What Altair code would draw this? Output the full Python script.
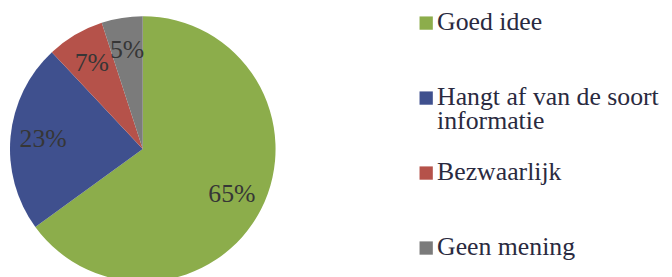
import altair as alt
import pandas as pd

categories = ["Goed idee", "Hangt af van de soort informatie", "Bezwaarlijk", "Geen mening"]
legend_labels = ["Goed idee", "Hangt af van de soort\ninformatie", "Bezwaarlijk", "Geen mening"]
values = [65, 23, 7, 5]
colors = ["#8cad4b", "#3f508e", "#b5524a", "#7b7b7b"]

df = pd.DataFrame({
    "cat": categories,
    "leg": legend_labels,
    "val": values,
    "order": list(range(len(categories))),
})
df["label"] = df["val"].astype(str) + "%"

cx, cy = 136, 141
SERIF = "Liberation Serif"

color = alt.Color("cat:N", scale=alt.Scale(domain=categories, range=colors), legend=None)

base = alt.Chart(df).encode(
    theta=alt.Theta("val:Q", stack=True),
    order=alt.Order("order:Q"),
    x=alt.value(cx),
    y=alt.value(cy),
)

pie = base.mark_arc(outerRadius=134).encode(color=color)

text = base.mark_text(radius=101, font=SERIF, fontSize=26, color="#363636").encode(
    text="label:N"
)

ly = alt.Y("order:Q", axis=None,
           scale=alt.Scale(domain=[0, 3], range=[14, 241], zero=False, nice=False))

leg_sq = alt.Chart(df).mark_square(size=180, opacity=1, strokeWidth=0).encode(
    x=alt.value(422), y=ly, color=color
)

leg_txt = alt.Chart(df).mark_text(
    font=SERIF, fontSize=26, align="left", baseline="alphabetic",
    dy=7, lineBreak="\n", lineHeight=24, color="#2a2a40",
).encode(x=alt.value(433), y=ly, text="leg:N")

chart = (pie + text + leg_sq + leg_txt).properties(
    width=662, height=269,
    autosize=alt.AutoSizeParams(type="none"),
    padding=0,
).configure_view(stroke=None)

chart.save("out.html", embed_options={"renderer": "svg", "actions": False})
